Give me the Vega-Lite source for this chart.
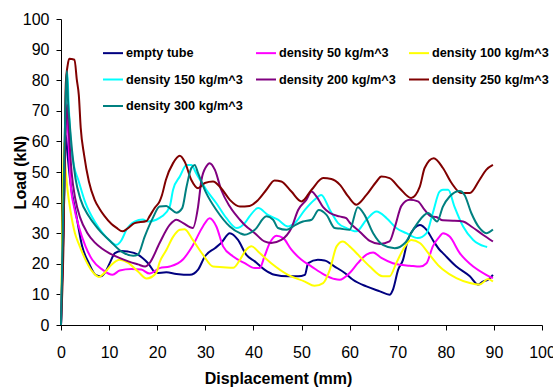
{
  "$schema": "https://vega.github.io/schema/vega-lite/v6.json",
  "width": 481,
  "height": 306,
  "autosize": {"type": "none"},
  "padding": {"left": 61, "top": 19, "right": 11, "bottom": 66},
  "background": "white",
  "config": {"view": {"stroke": null}, "font": "Liberation Sans"},
  "data": {"values": [
    {"s":"empty tube","x":0,"y":0},{"s":"empty tube","x":0.5,"y":30},{"s":"empty tube","x":1.0,"y":62},{"s":"empty tube","x":1.4,"y":55},{"s":"empty tube","x":2.0,"y":46},{"s":"empty tube","x":3.1,"y":36.6},{"s":"empty tube","x":4.4,"y":25.7},{"s":"empty tube","x":5.8,"y":20.2},{"s":"empty tube","x":7.2,"y":16.4},{"s":"empty tube","x":8.3,"y":15.9},{"s":"empty tube","x":9.3,"y":17.5},{"s":"empty tube","x":10.3,"y":20.8},{"s":"empty tube","x":11.2,"y":23.5},{"s":"empty tube","x":12.6,"y":24.2},{"s":"empty tube","x":13.9,"y":24},{"s":"empty tube","x":16,"y":23},{"s":"empty tube","x":18.1,"y":20.2},{"s":"empty tube","x":19.8,"y":17},{"s":"empty tube","x":21.9,"y":17.2},{"s":"empty tube","x":24,"y":16.7},{"s":"empty tube","x":26.8,"y":16.4},{"s":"empty tube","x":28.5,"y":18.1},{"s":"empty tube","x":29.9,"y":22.4},{"s":"empty tube","x":32,"y":25.1},{"s":"empty tube","x":33.3,"y":26.8},{"s":"empty tube","x":35.1,"y":30},{"s":"empty tube","x":36.8,"y":27.8},{"s":"empty tube","x":38.5,"y":23},{"s":"empty tube","x":40.3,"y":20.8},{"s":"empty tube","x":42.3,"y":18.1},{"s":"empty tube","x":44.4,"y":16.4},{"s":"empty tube","x":47.2,"y":15.9},{"s":"empty tube","x":49.3,"y":15.9},{"s":"empty tube","x":50.7,"y":16.4},{"s":"empty tube","x":51.4,"y":20.2},{"s":"empty tube","x":53.4,"y":21.3},{"s":"empty tube","x":54.8,"y":21.1},{"s":"empty tube","x":56.9,"y":19.1},{"s":"empty tube","x":59,"y":17},{"s":"empty tube","x":60.7,"y":14.8},{"s":"empty tube","x":63.5,"y":12.6},{"s":"empty tube","x":66.3,"y":11},{"s":"empty tube","x":68.3,"y":9.9},{"s":"empty tube","x":69,"y":11.5},{"s":"empty tube","x":70.1,"y":18.1},{"s":"empty tube","x":71.1,"y":21.3},{"s":"empty tube","x":72.1,"y":27.8},{"s":"empty tube","x":73.5,"y":31.7},{"s":"empty tube","x":74.6,"y":32.7},{"s":"empty tube","x":76,"y":31.1},{"s":"empty tube","x":77.3,"y":27.8},{"s":"empty tube","x":78.7,"y":24.6},{"s":"empty tube","x":79.4,"y":23.5},{"s":"empty tube","x":82.2,"y":19.1},{"s":"empty tube","x":85,"y":15.9},{"s":"empty tube","x":86.7,"y":13.2},{"s":"empty tube","x":87.7,"y":14.2},{"s":"empty tube","x":88.8,"y":14.8},{"s":"empty tube","x":89.8,"y":16.4},

    {"s":"density 50 kg/m^3","x":0,"y":0},{"s":"density 50 kg/m^3","x":0.6,"y":40},{"s":"density 50 kg/m^3","x":1.0,"y":68},{"s":"density 50 kg/m^3","x":1.2,"y":72.5},{"s":"density 50 kg/m^3","x":1.5,"y":62},{"s":"density 50 kg/m^3","x":2.0,"y":46},{"s":"density 50 kg/m^3","x":2.7,"y":38.7},{"s":"density 50 kg/m^3","x":3.7,"y":32.2},{"s":"density 50 kg/m^3","x":5.1,"y":25.7},{"s":"density 50 kg/m^3","x":6.5,"y":21.3},{"s":"density 50 kg/m^3","x":8.6,"y":18.1},{"s":"density 50 kg/m^3","x":10.7,"y":16.4},{"s":"density 50 kg/m^3","x":12.2,"y":17.8},{"s":"density 50 kg/m^3","x":14.6,"y":18.3},{"s":"density 50 kg/m^3","x":16.7,"y":18.1},{"s":"density 50 kg/m^3","x":18.4,"y":16.8},{"s":"density 50 kg/m^3","x":20.5,"y":18.6},{"s":"density 50 kg/m^3","x":22.6,"y":19.1},{"s":"density 50 kg/m^3","x":25.4,"y":21.5},{"s":"density 50 kg/m^3","x":27.4,"y":26},{"s":"density 50 kg/m^3","x":29.5,"y":32.2},{"s":"density 50 kg/m^3","x":30.9,"y":34.9},{"s":"density 50 kg/m^3","x":32.3,"y":32.2},{"s":"density 50 kg/m^3","x":33.7,"y":25.7},{"s":"density 50 kg/m^3","x":35.8,"y":22.4},{"s":"density 50 kg/m^3","x":38.2,"y":20.2},{"s":"density 50 kg/m^3","x":40.3,"y":18.6},{"s":"density 50 kg/m^3","x":41.3,"y":18.6},{"s":"density 50 kg/m^3","x":42.3,"y":22.4},{"s":"density 50 kg/m^3","x":43.4,"y":26.8},{"s":"density 50 kg/m^3","x":44.8,"y":29.2},{"s":"density 50 kg/m^3","x":46.2,"y":28.4},{"s":"density 50 kg/m^3","x":47.9,"y":24.6},{"s":"density 50 kg/m^3","x":50,"y":21.3},{"s":"density 50 kg/m^3","x":52.1,"y":19.1},{"s":"density 50 kg/m^3","x":54.8,"y":16.4},{"s":"density 50 kg/m^3","x":56.9,"y":15},{"s":"density 50 kg/m^3","x":57.9,"y":14.8},{"s":"density 50 kg/m^3","x":60,"y":17},{"s":"density 50 kg/m^3","x":61.7,"y":20.2},{"s":"density 50 kg/m^3","x":63.5,"y":23},{"s":"density 50 kg/m^3","x":64.9,"y":23.7},{"s":"density 50 kg/m^3","x":66.6,"y":21.9},{"s":"density 50 kg/m^3","x":69,"y":20.2},{"s":"density 50 kg/m^3","x":70.4,"y":19.7},{"s":"density 50 kg/m^3","x":72.5,"y":19.4},{"s":"density 50 kg/m^3","x":74.6,"y":19.1},{"s":"density 50 kg/m^3","x":76,"y":20.2},{"s":"density 50 kg/m^3","x":77.3,"y":25.7},{"s":"density 50 kg/m^3","x":78.7,"y":28.9},{"s":"density 50 kg/m^3","x":79.4,"y":30},{"s":"density 50 kg/m^3","x":80.8,"y":28.9},{"s":"density 50 kg/m^3","x":82.9,"y":23.5},{"s":"density 50 kg/m^3","x":85.7,"y":19.1},{"s":"density 50 kg/m^3","x":88.4,"y":16.4},{"s":"density 50 kg/m^3","x":89.8,"y":15.3},

    {"s":"density 100 kg/m^3","x":0,"y":0},{"s":"density 100 kg/m^3","x":0.3,"y":35},{"s":"density 100 kg/m^3","x":0.6,"y":59.6},{"s":"density 100 kg/m^3","x":0.9,"y":52},{"s":"density 100 kg/m^3","x":1.3,"y":45},{"s":"density 100 kg/m^3","x":2.0,"y":37},{"s":"density 100 kg/m^3","x":2.9,"y":30},{"s":"density 100 kg/m^3","x":3.7,"y":26.5},{"s":"density 100 kg/m^3","x":5.1,"y":21.3},{"s":"density 100 kg/m^3","x":6.5,"y":17.5},{"s":"density 100 kg/m^3","x":7.9,"y":15.7},{"s":"density 100 kg/m^3","x":8.9,"y":16.8},{"s":"density 100 kg/m^3","x":10.5,"y":19.7},{"s":"density 100 kg/m^3","x":12.2,"y":21.3},{"s":"density 100 kg/m^3","x":13.9,"y":20.4},{"s":"density 100 kg/m^3","x":16,"y":17.5},{"s":"density 100 kg/m^3","x":17.8,"y":15.2},{"s":"density 100 kg/m^3","x":19.8,"y":17},{"s":"density 100 kg/m^3","x":20.5,"y":20.5},{"s":"density 100 kg/m^3","x":21.9,"y":24.5},{"s":"density 100 kg/m^3","x":23.3,"y":28.8},{"s":"density 100 kg/m^3","x":24.7,"y":31.1},{"s":"density 100 kg/m^3","x":25.7,"y":31.3},{"s":"density 100 kg/m^3","x":27.4,"y":27.8},{"s":"density 100 kg/m^3","x":29.5,"y":23},{"s":"density 100 kg/m^3","x":31.6,"y":19.1},{"s":"density 100 kg/m^3","x":33.7,"y":18.9},{"s":"density 100 kg/m^3","x":35.8,"y":18.7},{"s":"density 100 kg/m^3","x":37.2,"y":21.3},{"s":"density 100 kg/m^3","x":38.5,"y":24.6},{"s":"density 100 kg/m^3","x":39.6,"y":25.7},{"s":"density 100 kg/m^3","x":41.3,"y":23.5},{"s":"density 100 kg/m^3","x":43.7,"y":20.2},{"s":"density 100 kg/m^3","x":47.2,"y":16.4},{"s":"density 100 kg/m^3","x":50.7,"y":14.2},{"s":"density 100 kg/m^3","x":52.7,"y":12.8},{"s":"density 100 kg/m^3","x":54.5,"y":13.7},{"s":"density 100 kg/m^3","x":55.9,"y":18.1},{"s":"density 100 kg/m^3","x":57.3,"y":25.7},{"s":"density 100 kg/m^3","x":58.6,"y":27.3},{"s":"density 100 kg/m^3","x":60,"y":25.7},{"s":"density 100 kg/m^3","x":62.1,"y":22.4},{"s":"density 100 kg/m^3","x":64.2,"y":19.1},{"s":"density 100 kg/m^3","x":66.9,"y":15.9},{"s":"density 100 kg/m^3","x":68.3,"y":15.9},{"s":"density 100 kg/m^3","x":69.7,"y":20.2},{"s":"density 100 kg/m^3","x":71.1,"y":24.6},{"s":"density 100 kg/m^3","x":72.8,"y":27.8},{"s":"density 100 kg/m^3","x":74.6,"y":26.8},{"s":"density 100 kg/m^3","x":76.7,"y":22.8},{"s":"density 100 kg/m^3","x":78.7,"y":19.1},{"s":"density 100 kg/m^3","x":79.4,"y":18.1},{"s":"density 100 kg/m^3","x":82.2,"y":15.3},{"s":"density 100 kg/m^3","x":85,"y":13.7},{"s":"density 100 kg/m^3","x":87,"y":13.2},{"s":"density 100 kg/m^3","x":88.8,"y":15},{"s":"density 100 kg/m^3","x":89.8,"y":14.2},

    {"s":"density 150 kg/m^3","x":0,"y":0},{"s":"density 150 kg/m^3","x":0.7,"y":45},{"s":"density 150 kg/m^3","x":1.1,"y":80},{"s":"density 150 kg/m^3","x":1.3,"y":82.8},{"s":"density 150 kg/m^3","x":1.6,"y":72},{"s":"density 150 kg/m^3","x":2.0,"y":60},{"s":"density 150 kg/m^3","x":2.7,"y":52},{"s":"density 150 kg/m^3","x":3.6,"y":47.4},{"s":"density 150 kg/m^3","x":5.1,"y":39.8},{"s":"density 150 kg/m^3","x":7.2,"y":33.3},{"s":"density 150 kg/m^3","x":10,"y":27.8},{"s":"density 150 kg/m^3","x":11.5,"y":26.2},{"s":"density 150 kg/m^3","x":12.6,"y":27.8},{"s":"density 150 kg/m^3","x":13.6,"y":31.1},{"s":"density 150 kg/m^3","x":15.3,"y":33.8},{"s":"density 150 kg/m^3","x":17,"y":34.5},{"s":"density 150 kg/m^3","x":18.1,"y":33.8},{"s":"density 150 kg/m^3","x":19.8,"y":34.4},{"s":"density 150 kg/m^3","x":21,"y":35.5},{"s":"density 150 kg/m^3","x":22.6,"y":38.7},{"s":"density 150 kg/m^3","x":23.3,"y":44.2},{"s":"density 150 kg/m^3","x":24.7,"y":48.5},{"s":"density 150 kg/m^3","x":26.1,"y":52.3},{"s":"density 150 kg/m^3","x":27.1,"y":52.3},{"s":"density 150 kg/m^3","x":28.1,"y":49.6},{"s":"density 150 kg/m^3","x":30.2,"y":44.2},{"s":"density 150 kg/m^3","x":32.3,"y":39.8},{"s":"density 150 kg/m^3","x":34.4,"y":34.9},{"s":"density 150 kg/m^3","x":36.5,"y":31.7},{"s":"density 150 kg/m^3","x":38.2,"y":33.3},{"s":"density 150 kg/m^3","x":39.2,"y":35.5},{"s":"density 150 kg/m^3","x":41,"y":38.2},{"s":"density 150 kg/m^3","x":43,"y":36},{"s":"density 150 kg/m^3","x":45.1,"y":34.4},{"s":"density 150 kg/m^3","x":47.2,"y":32.2},{"s":"density 150 kg/m^3","x":48.6,"y":33.3},{"s":"density 150 kg/m^3","x":50.7,"y":37.6},{"s":"density 150 kg/m^3","x":52.7,"y":40.9},{"s":"density 150 kg/m^3","x":54.1,"y":42.5},{"s":"density 150 kg/m^3","x":55.9,"y":37.6},{"s":"density 150 kg/m^3","x":57.6,"y":33.3},{"s":"density 150 kg/m^3","x":59.3,"y":31.7},{"s":"density 150 kg/m^3","x":61.4,"y":30.6},{"s":"density 150 kg/m^3","x":63.5,"y":34.4},{"s":"density 150 kg/m^3","x":65.6,"y":37.1},{"s":"density 150 kg/m^3","x":67.7,"y":34.9},{"s":"density 150 kg/m^3","x":69.7,"y":31.7},{"s":"density 150 kg/m^3","x":71.8,"y":30},{"s":"density 150 kg/m^3","x":74.2,"y":28.4},{"s":"density 150 kg/m^3","x":76,"y":30},{"s":"density 150 kg/m^3","x":77.3,"y":36.6},{"s":"density 150 kg/m^3","x":78.7,"y":43.6},{"s":"density 150 kg/m^3","x":79.4,"y":44.2},{"s":"density 150 kg/m^3","x":80.5,"y":44.2},{"s":"density 150 kg/m^3","x":81.8,"y":38.7},{"s":"density 150 kg/m^3","x":83.6,"y":32.2},{"s":"density 150 kg/m^3","x":85.7,"y":27.8},{"s":"density 150 kg/m^3","x":88.1,"y":25.7},{"s":"density 150 kg/m^3","x":88.6,"y":25.5},

    {"s":"density 200 kg/m^3","x":0,"y":0},{"s":"density 200 kg/m^3","x":0.6,"y":40},{"s":"density 200 kg/m^3","x":1.0,"y":65},{"s":"density 200 kg/m^3","x":1.3,"y":72},{"s":"density 200 kg/m^3","x":1.6,"y":64},{"s":"density 200 kg/m^3","x":2.2,"y":50},{"s":"density 200 kg/m^3","x":3.0,"y":41},{"s":"density 200 kg/m^3","x":4.0,"y":35},{"s":"density 200 kg/m^3","x":5.5,"y":30},{"s":"density 200 kg/m^3","x":7,"y":27},{"s":"density 200 kg/m^3","x":8.5,"y":25},{"s":"density 200 kg/m^3","x":10,"y":23.5},{"s":"density 200 kg/m^3","x":12,"y":22},{"s":"density 200 kg/m^3","x":14,"y":20.8},{"s":"density 200 kg/m^3","x":16,"y":19.8},{"s":"density 200 kg/m^3","x":17.5,"y":19.1},{"s":"density 200 kg/m^3","x":18.4,"y":20.2},{"s":"density 200 kg/m^3","x":20.5,"y":26.8},{"s":"density 200 kg/m^3","x":22.6,"y":32.7},{"s":"density 200 kg/m^3","x":24,"y":34.4},{"s":"density 200 kg/m^3","x":25.4,"y":33.3},{"s":"density 200 kg/m^3","x":27.4,"y":31.7},{"s":"density 200 kg/m^3","x":28.5,"y":38.7},{"s":"density 200 kg/m^3","x":29.2,"y":47.4},{"s":"density 200 kg/m^3","x":30.2,"y":51.8},{"s":"density 200 kg/m^3","x":30.9,"y":52.9},{"s":"density 200 kg/m^3","x":32,"y":50.7},{"s":"density 200 kg/m^3","x":33.3,"y":44.2},{"s":"density 200 kg/m^3","x":35.1,"y":38.7},{"s":"density 200 kg/m^3","x":37.2,"y":34.4},{"s":"density 200 kg/m^3","x":38.2,"y":32.7},{"s":"density 200 kg/m^3","x":40.3,"y":30},{"s":"density 200 kg/m^3","x":42.3,"y":27.3},{"s":"density 200 kg/m^3","x":43.7,"y":26.8},{"s":"density 200 kg/m^3","x":45.8,"y":27.8},{"s":"density 200 kg/m^3","x":47.9,"y":31.7},{"s":"density 200 kg/m^3","x":49.3,"y":37.6},{"s":"density 200 kg/m^3","x":51,"y":40.9},{"s":"density 200 kg/m^3","x":52.1,"y":43.6},{"s":"density 200 kg/m^3","x":53.1,"y":42},{"s":"density 200 kg/m^3","x":54.5,"y":38.5},{"s":"density 200 kg/m^3","x":55.9,"y":36.6},{"s":"density 200 kg/m^3","x":57.9,"y":35.5},{"s":"density 200 kg/m^3","x":59.3,"y":34.9},{"s":"density 200 kg/m^3","x":60,"y":33.5},{"s":"density 200 kg/m^3","x":62.1,"y":30.5},{"s":"density 200 kg/m^3","x":64.2,"y":27.5},{"s":"density 200 kg/m^3","x":66.3,"y":26.5},{"s":"density 200 kg/m^3","x":68.3,"y":27.3},{"s":"density 200 kg/m^3","x":69.4,"y":32},{"s":"density 200 kg/m^3","x":70.8,"y":39},{"s":"density 200 kg/m^3","x":72.5,"y":40.9},{"s":"density 200 kg/m^3","x":74.2,"y":40.4},{"s":"density 200 kg/m^3","x":75.6,"y":37.6},{"s":"density 200 kg/m^3","x":77,"y":35.5},{"s":"density 200 kg/m^3","x":78,"y":35.3},{"s":"density 200 kg/m^3","x":79.4,"y":34.2},{"s":"density 200 kg/m^3","x":81.5,"y":34.1},{"s":"density 200 kg/m^3","x":83.6,"y":33.8},{"s":"density 200 kg/m^3","x":85.3,"y":32.2},{"s":"density 200 kg/m^3","x":87.7,"y":29.5},{"s":"density 200 kg/m^3","x":89.8,"y":27.3},

    {"s":"density 250 kg/m^3","x":0,"y":0},{"s":"density 250 kg/m^3","x":0.5,"y":25},{"s":"density 250 kg/m^3","x":1.0,"y":79},{"s":"density 250 kg/m^3","x":1.4,"y":85},{"s":"density 250 kg/m^3","x":1.7,"y":87},{"s":"density 250 kg/m^3","x":2.8,"y":86.7},{"s":"density 250 kg/m^3","x":3.3,"y":80},{"s":"density 250 kg/m^3","x":3.7,"y":75.2},{"s":"density 250 kg/m^3","x":4.1,"y":64.4},{"s":"density 250 kg/m^3","x":4.8,"y":55.6},{"s":"density 250 kg/m^3","x":5.8,"y":46.9},{"s":"density 250 kg/m^3","x":7,"y":40.9},{"s":"density 250 kg/m^3","x":8,"y":38},{"s":"density 250 kg/m^3","x":9.1,"y":35.5},{"s":"density 250 kg/m^3","x":10.5,"y":33},{"s":"density 250 kg/m^3","x":11.5,"y":31.8},{"s":"density 250 kg/m^3","x":12.8,"y":30.6},{"s":"density 250 kg/m^3","x":13.8,"y":31.5},{"s":"density 250 kg/m^3","x":15.3,"y":33.3},{"s":"density 250 kg/m^3","x":17.8,"y":34},{"s":"density 250 kg/m^3","x":18.4,"y":35.5},{"s":"density 250 kg/m^3","x":19.5,"y":38.3},{"s":"density 250 kg/m^3","x":20.5,"y":40.4},{"s":"density 250 kg/m^3","x":21,"y":42.5},{"s":"density 250 kg/m^3","x":21.8,"y":47.4},{"s":"density 250 kg/m^3","x":23.3,"y":52.9},{"s":"density 250 kg/m^3","x":24.7,"y":55.3},{"s":"density 250 kg/m^3","x":25.7,"y":53.4},{"s":"density 250 kg/m^3","x":27.1,"y":47.4},{"s":"density 250 kg/m^3","x":28.5,"y":44.7},{"s":"density 250 kg/m^3","x":29.9,"y":46.4},{"s":"density 250 kg/m^3","x":31.6,"y":46.9},{"s":"density 250 kg/m^3","x":33.3,"y":44.7},{"s":"density 250 kg/m^3","x":35.1,"y":40.9},{"s":"density 250 kg/m^3","x":37.2,"y":38.7},{"s":"density 250 kg/m^3","x":39.2,"y":38.9},{"s":"density 250 kg/m^3","x":41,"y":40.9},{"s":"density 250 kg/m^3","x":42.7,"y":44.2},{"s":"density 250 kg/m^3","x":44.4,"y":47.2},{"s":"density 250 kg/m^3","x":45.8,"y":46.9},{"s":"density 250 kg/m^3","x":47.9,"y":43.6},{"s":"density 250 kg/m^3","x":50,"y":40.4},{"s":"density 250 kg/m^3","x":52.1,"y":44.2},{"s":"density 250 kg/m^3","x":54.5,"y":48},{"s":"density 250 kg/m^3","x":56.2,"y":47.7},{"s":"density 250 kg/m^3","x":58,"y":45.8},{"s":"density 250 kg/m^3","x":59.7,"y":42},{"s":"density 250 kg/m^3","x":61.4,"y":39.3},{"s":"density 250 kg/m^3","x":63.5,"y":42.5},{"s":"density 250 kg/m^3","x":65.6,"y":46.9},{"s":"density 250 kg/m^3","x":66.6,"y":48.5},{"s":"density 250 kg/m^3","x":68.3,"y":48},{"s":"density 250 kg/m^3","x":70.4,"y":44.7},{"s":"density 250 kg/m^3","x":72.8,"y":41.5},{"s":"density 250 kg/m^3","x":74.6,"y":45.2},{"s":"density 250 kg/m^3","x":75.6,"y":51.3},{"s":"density 250 kg/m^3","x":77.5,"y":54.5},{"s":"density 250 kg/m^3","x":79.4,"y":51.3},{"s":"density 250 kg/m^3","x":81.2,"y":46.4},{"s":"density 250 kg/m^3","x":83.2,"y":43.1},{"s":"density 250 kg/m^3","x":85,"y":43.1},{"s":"density 250 kg/m^3","x":87,"y":47.4},{"s":"density 250 kg/m^3","x":88.4,"y":50.7},{"s":"density 250 kg/m^3","x":89.8,"y":52.3},

    {"s":"density 300 kg/m^3","x":0,"y":0},{"s":"density 300 kg/m^3","x":0.5,"y":40},{"s":"density 300 kg/m^3","x":0.9,"y":70},{"s":"density 300 kg/m^3","x":1.2,"y":83},{"s":"density 300 kg/m^3","x":1.5,"y":72},{"s":"density 300 kg/m^3","x":1.8,"y":66},{"s":"density 300 kg/m^3","x":2.3,"y":57},{"s":"density 300 kg/m^3","x":3.0,"y":48},{"s":"density 300 kg/m^3","x":4.1,"y":40.9},{"s":"density 300 kg/m^3","x":5.8,"y":35.5},{"s":"density 300 kg/m^3","x":7.9,"y":31.1},{"s":"density 300 kg/m^3","x":10.3,"y":27.3},{"s":"density 300 kg/m^3","x":12.6,"y":24},{"s":"density 300 kg/m^3","x":15,"y":22.6},{"s":"density 300 kg/m^3","x":16,"y":23},{"s":"density 300 kg/m^3","x":17.4,"y":28.9},{"s":"density 300 kg/m^3","x":19.1,"y":35},{"s":"density 300 kg/m^3","x":20.5,"y":38.7},{"s":"density 300 kg/m^3","x":21.9,"y":38.9},{"s":"density 300 kg/m^3","x":22.6,"y":38.2},{"s":"density 300 kg/m^3","x":24,"y":36.7},{"s":"density 300 kg/m^3","x":25.2,"y":38.2},{"s":"density 300 kg/m^3","x":26.1,"y":45.2},{"s":"density 300 kg/m^3","x":27.1,"y":51.3},{"s":"density 300 kg/m^3","x":27.8,"y":52.3},{"s":"density 300 kg/m^3","x":28.5,"y":49.6},{"s":"density 300 kg/m^3","x":30.2,"y":43.1},{"s":"density 300 kg/m^3","x":32.3,"y":37.6},{"s":"density 300 kg/m^3","x":35.1,"y":32.2},{"s":"density 300 kg/m^3","x":37.2,"y":30},{"s":"density 300 kg/m^3","x":38.2,"y":29.5},{"s":"density 300 kg/m^3","x":40.3,"y":31.1},{"s":"density 300 kg/m^3","x":42.7,"y":35.5},{"s":"density 300 kg/m^3","x":44.1,"y":34.4},{"s":"density 300 kg/m^3","x":45.1,"y":31.7},{"s":"density 300 kg/m^3","x":46.9,"y":31.1},{"s":"density 300 kg/m^3","x":48.5,"y":32.5},{"s":"density 300 kg/m^3","x":50.3,"y":33.8},{"s":"density 300 kg/m^3","x":52.1,"y":34.4},{"s":"density 300 kg/m^3","x":53.6,"y":37.6},{"s":"density 300 kg/m^3","x":55.2,"y":36},{"s":"density 300 kg/m^3","x":56.9,"y":31.7},{"s":"density 300 kg/m^3","x":58,"y":31.5},{"s":"density 300 kg/m^3","x":60,"y":31.1},{"s":"density 300 kg/m^3","x":61.7,"y":38.5},{"s":"density 300 kg/m^3","x":63.1,"y":36},{"s":"density 300 kg/m^3","x":64.9,"y":30},{"s":"density 300 kg/m^3","x":66.9,"y":26.2},{"s":"density 300 kg/m^3","x":69.4,"y":25.1},{"s":"density 300 kg/m^3","x":71.5,"y":26.8},{"s":"density 300 kg/m^3","x":73.2,"y":31.1},{"s":"density 300 kg/m^3","x":74.9,"y":34.9},{"s":"density 300 kg/m^3","x":76.3,"y":36.6},{"s":"density 300 kg/m^3","x":77.7,"y":34.4},{"s":"density 300 kg/m^3","x":78.2,"y":33.8},{"s":"density 300 kg/m^3","x":79.4,"y":38.7},{"s":"density 300 kg/m^3","x":80.8,"y":42},{"s":"density 300 kg/m^3","x":82.9,"y":43.8},{"s":"density 300 kg/m^3","x":83.9,"y":42.5},{"s":"density 300 kg/m^3","x":85.3,"y":36.6},{"s":"density 300 kg/m^3","x":87,"y":31.7},{"s":"density 300 kg/m^3","x":88.4,"y":30},{"s":"density 300 kg/m^3","x":89.8,"y":31.2}
  ]},
  "mark": {"type": "line", "strokeWidth": 2, "interpolate": "monotone"},
  "encoding": {
    "x": {
      "field": "x", "type": "quantitative",
      "scale": {"domain": [0, 100], "nice": false, "zero": true},
      "axis": {
        "title": "Displacement (mm)",
        "values": [0, 10, 20, 30, 40, 50, 60, 70, 80, 90, 100],
        "grid": false, "domainColor": "black", "tickColor": "black", "tickSize": 5,
        "labelFont": "Liberation Sans", "labelFontSize": 16, "labelColor": "black", "labelPadding": 14,
        "labelOverlap": false, "labelFlush": false,
        "titleFont": "Liberation Sans", "titleFontSize": 16, "titleFontWeight": "bold", "titleColor": "black",
        "titleX": 217, "titleY": 58, "titleBaseline": "alphabetic", "titleAlign": "center"
      }
    },
    "y": {
      "field": "y", "type": "quantitative",
      "scale": {"domain": [0, 100], "nice": false},
      "axis": {
        "title": "Load (kN)",
        "values": [0, 10, 20, 30, 40, 50, 60, 70, 80, 90, 100],
        "grid": false, "domainColor": "black", "tickColor": "black", "tickSize": 5,
        "labelFont": "Liberation Sans", "labelFontSize": 16, "labelColor": "black", "labelPadding": 7,
        "labelOverlap": false, "labelFlush": false,
        "titleFont": "Liberation Sans", "titleFontSize": 16, "titleFontWeight": "bold", "titleColor": "black",
        "titleAngle": -90, "titleX": -36, "titleY": 153, "titleBaseline": "alphabetic", "titleAlign": "center"
      }
    },
    "color": {
      "field": "s", "type": "nominal",
      "scale": {
        "domain": ["empty tube", "density 50 kg/m^3", "density 100 kg/m^3", "density 150 kg/m^3", "density 200 kg/m^3", "density 250 kg/m^3", "density 300 kg/m^3"],
        "range": ["#000080", "#FF00FF", "#FFFF00", "#00FFFF", "#800080", "#800000", "#008080"]
      },
      "legend": {
        "title": null, "orient": "none", "direction": "horizontal", "legendX": 41, "legendY": 23, "columns": 3,
        "padding": 0, "symbolType": "stroke", "symbolSize": 400, "symbolStrokeWidth": 2,
        "labelFont": "Liberation Sans", "labelFontSize": 12.7, "labelFontWeight": "bold", "labelColor": "black",
        "labelOffset": 2, "labelLimit": 0, "columnPadding": 9, "rowPadding": 8.5
      }
    }
  }
}
